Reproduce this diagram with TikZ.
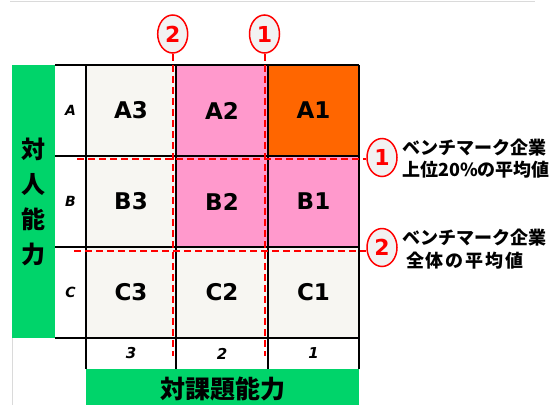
\documentclass[tikz,border=0pt]{standalone}
\usepackage{fontspec}
\setmainfont{DejaVu Sans}
\newfontfamily\jp{Noto Sans CJK JP}
\definecolor{bargreen}{RGB}{0,212,106}
\definecolor{cellgray}{RGB}{247,246,242}
\definecolor{cellpink}{RGB}{255,153,204}
\definecolor{cellorange}{RGB}{255,102,0}
\definecolor{markred}{RGB}{255,0,0}
\definecolor{circfill}{RGB}{242,242,242}
\definecolor{framegray}{RGB}{218,218,218}
\tikzset{
  cellbox/.style={inner sep=0pt, minimum height=91pt, font=\fontsize{23}{23}\selectfont\bfseries},
  rowlab/.style={inner sep=0pt, font=\fontsize{14}{14}\selectfont\bfseries\itshape},
  collab/.style={inner sep=0pt, font=\fontsize{15}{15}\selectfont\bfseries\itshape},
  gridline/.style={line width=1.6pt, black},
  refline/.style={markred, line width=2pt, dash pattern=on 7pt off 4pt},
  refmark/.style={ellipse, draw=markred, line width=1.5pt, fill=circfill, minimum width=30pt, minimum height=38pt, inner sep=0pt, text=markred, font=\fontsize{22}{22}\selectfont\bfseries},
  bartext/.style={font=\jp\bfseries\fontsize{24}{35}\selectfont, align=center, inner sep=0pt},
  notetext/.style={font=\jp\bfseries\fontsize{18}{18}\selectfont, inner sep=0pt, anchor=west},
}
\usetikzlibrary{shapes.geometric}
\begin{document}
\begin{tikzpicture}[x=1pt,y=-1pt]
\useasboundingbox (0,0) rectangle (553,405);
% faint frame lines
\draw[framegray, line width=1pt] (10,1) -- (535,1);
\draw[framegray, line width=1pt] (12,338) -- (12,405);
% green bars
\fill[bargreen] (12,65) rectangle (55,338);
\fill[bargreen] (86,369) rectangle (359,405);
\node[bartext] (vtitle) at (33.5,201.5) {対\\人\\能\\力};
\node[bartext, font=\jp\bfseries\fontsize{25}{25}\selectfont] (htitle) at (222.5,389) {対課題能力};
% cells
\node[cellbox, fill=cellgray,   minimum width=90pt] (A3) at (131,110.5) {A3};
\node[cellbox, fill=cellpink,   minimum width=92pt] (A2) at (222,110.5) {A2};
\node[cellbox, fill=cellorange, minimum width=91pt] (A1) at (313.5,110.5) {A1};
\node[cellbox, fill=cellgray,   minimum width=90pt] (B3) at (131,201.5) {B3};
\node[cellbox, fill=cellpink,   minimum width=92pt] (B2) at (222,201.5) {B2};
\node[cellbox, fill=cellpink,   minimum width=91pt] (B1) at (313.5,201.5) {B1};
\node[cellbox, fill=cellgray,   minimum width=90pt] (C3) at (131,292.5) {C3};
\node[cellbox, fill=cellgray,   minimum width=92pt] (C2) at (222,292.5) {C2};
\node[cellbox, fill=cellgray,   minimum width=91pt] (C1) at (313.5,292.5) {C1};
% grid
\draw[gridline] (55,65) -- (359,65)
  (55,156) -- (359,156)
  (55,247) -- (359,247)
  (55,338) -- (359,338)
  (86,65) -- (86,369)
  (176,65) -- (176,369)
  (268,65) -- (268,369)
  (359,65) -- (359,369);
% row / column labels
\node[rowlab] (ra) at (70.5,110.5) {A};
\node[rowlab] (rb) at (70.5,201.5) {B};
\node[rowlab] (rc) at (70.5,292.5) {C};
\node[collab] (c3) at (131,353.5) {3};
\node[collab] (c2) at (222,353.5) {2};
\node[collab] (c1) at (313.5,353.5) {1};
% reference marks
\node[refmark] (t2) at (172.7,34) {2};
\node[refmark] (t1) at (264.5,34) {1};
\node[refmark] (r1) at (382,157.5) {1};
\node[refmark] (r2) at (382,247.5) {2};
\coordinate (t2end) at (172.7,356);
\coordinate (t1end) at (264.5,356);
\coordinate (r1end) at (77,158.7);
\coordinate (r2end) at (74,250.5);
\draw[refline] (t2.south) -- (t2end);
\draw[refline] (t1.south) -- (t1end);
\draw[refline] (r1end) -- (r1end -| r1.west);
\draw[refline] (r2end) -- (r2end -| r2.west);
% notes
\node[notetext] (n1a) at (402,148) {ベンチマーク企業};
\node[notetext] (n1b) at (402,170) {上位20\%の平均値};
\node[notetext] (n2a) at (402,238) {ベンチマーク企業};
\node[notetext, font=\jp\bfseries\fontsize{18}{18}\selectfont\addfontfeature{LetterSpace=10}] (n2b) at (406,261) {全体の平均値};
\end{tikzpicture}
\end{document}
